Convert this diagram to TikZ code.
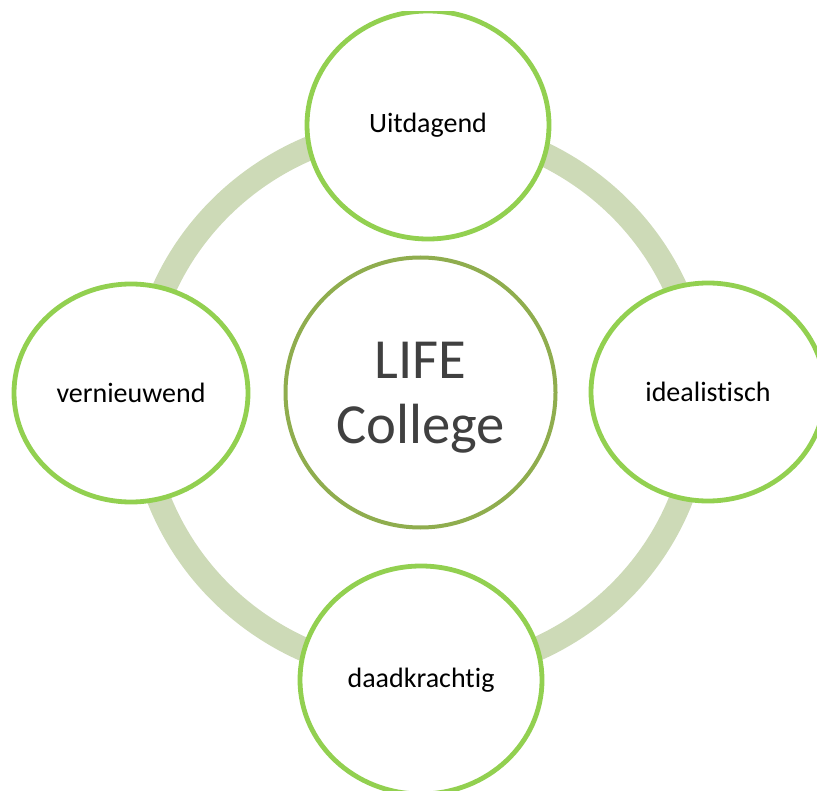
\documentclass[tikz,border=0pt]{standalone}
\usepackage{fontspec}
\setmainfont{Carlito}[RawFeature={-liga;-clig;-calt;-dlig}]
\usepackage{tikz}
\usetikzlibrary{shapes.geometric}

\definecolor{leafgreen}{HTML}{92D050}
\definecolor{olivegreen}{HTML}{8FAD4E}
\definecolor{ringgreen}{HTML}{CDDAB7}
\definecolor{coregrey}{HTML}{404040}

\tikzset{
    ring/.style={draw=ringgreen, line width=18pt},
    core/.style={circle, draw=olivegreen, line width=3pt, fill=white,
        minimum size=202.5pt, inner sep=0pt, align=center, text depth=0pt,
        text=coregrey, font=\fontsize{42.5}{48.75}\selectfont},
    petal/.style={ellipse, draw=leafgreen, line width=3.6pt, fill=white,
        inner sep=0pt, font=\fontsize{21}{25}\selectfont},
    tall/.style={petal, minimum width=181.5pt, minimum height=171pt},
    wide/.style={petal, minimum width=175.5pt, minimum height=163.5pt}
}

\begin{document}
\begin{tikzpicture}[x=0.75pt,y=-0.75pt]
            \useasboundingbox (0,0) rectangle (817,791);
            \clip (0,12) rectangle (817,791);
            % background ring
            \draw[ring] (420,400) ellipse [x radius=280, y radius=274];
            \node[core] (life) at (420.5,392.5) {LIFE\\College};
            \node[tall] (uitdagend) at (428,125) {Uitdagend};
            \node[wide] (idealistisch) at (708,392) {idealistisch};
            \node[tall] (daadkrachtig) at (421,680) {daadkrachtig};
            \node[wide] (vernieuwend) at (131,393) {vernieuwend};
        \end{tikzpicture}
\end{document}
